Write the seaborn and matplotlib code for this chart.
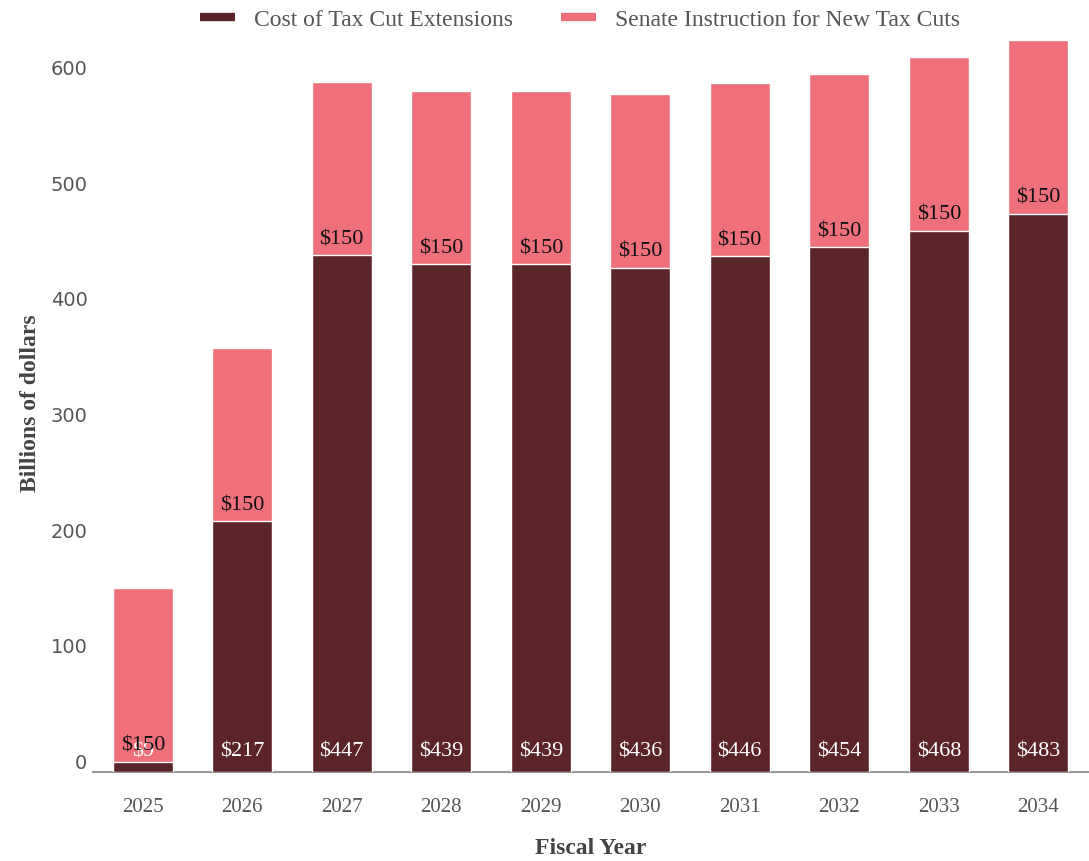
import matplotlib
matplotlib.use("Agg")
import matplotlib.pyplot as plt
import seaborn as sns
import pandas as pd
from matplotlib.lines import Line2D

years = ["2025", "2026", "2027", "2028", "2029", "2030", "2031", "2032", "2033", "2034"]
extensions = [9, 217, 447, 439, 439, 436, 446, 454, 468, 483]
senate = [150, 150, 150, 150, 150, 150, 150, 150, 150, 150]
series_names = ["Cost of Tax Cut Extensions", "Senate Instruction for New Tax Cuts"]
y_ticks = [0, 100, 200, 300, 400, 500, 600]

DARK = "#5a2428"
PINK = "#ef6f7a"
SERIF = "Liberation Serif"

sns.set_theme(style="white")
plt.rcParams["font.family"] = ["DejaVu Sans"]

totals = [a + b for a, b in zip(extensions, senate)]
df = pd.DataFrame({"year": years, "ext": extensions, "sen": senate, "total": totals})

fig = plt.figure(figsize=(10.89, 8.62), dpi=100)
ax = fig.add_axes([93 / 1089, 89 / 862, 995 / 1089, 740 / 862])

sns.barplot(data=df, x="year", y="total", color=PINK, width=0.6, saturation=1, ax=ax, zorder=2)
sns.barplot(data=df, x="year", y="ext", color=DARK, width=0.6, saturation=1, ax=ax, zorder=3)

ax.set_ylim(0, 640)
ax.set_xlim(-0.5, 9.5)
ax.set_yticks(y_ticks)
ax.set_yticklabels([str(t) for t in y_ticks], fontsize=14, color="#555555", va="bottom")
ax.tick_params(axis="y", length=0, pad=4)
ax.tick_params(axis="x", length=0, pad=18)
for lab in ax.get_xticklabels():
    lab.set_fontfamily(SERIF)
    lab.set_fontsize(15)
    lab.set_color("#555555")

for s in ["top", "right", "left"]:
    ax.spines[s].set_visible(False)
ax.spines["bottom"].set_color("#999999")
ax.spines["bottom"].set_linewidth(1.5)

ax.set_xlabel("Fiscal Year", fontfamily=SERIF, fontsize=17, fontweight="bold", color="#444444", labelpad=15)
ax.set_ylabel("Billions of dollars", fontfamily=SERIF, fontsize=17, fontweight="bold", color="#444444")
ax.yaxis.set_label_coords(-0.052, 0.5)

for i, (e, s) in enumerate(zip(extensions, senate)):
    ax.annotate(f"${e}", (i, 0), xytext=(0, 8), textcoords="offset points",
                ha="center", va="bottom", color="white", fontsize=16, fontfamily=SERIF, zorder=5)
    ax.annotate(f"${s}", (i, e), xytext=(0, 5), textcoords="offset points",
                ha="center", va="bottom", color="#111111", fontsize=16, fontfamily=SERIF, zorder=6)

handles = [Line2D([0], [0], color=DARK, lw=6, solid_capstyle="butt"),
           Line2D([0], [0], color=PINK, lw=6, solid_capstyle="butt")]
fig.legend(handles, series_names, loc="center", bbox_to_anchor=(580 / 1089, 1 - 20 / 862),
           ncol=2, frameon=False, handlelength=1.5, columnspacing=2.0,
           prop={"family": SERIF, "size": 17}, labelcolor="#555555")

fig.savefig("out.png", dpi=100)
